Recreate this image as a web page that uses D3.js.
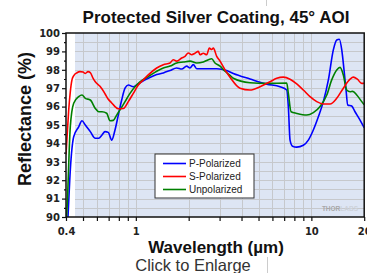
<!DOCTYPE html>
<html>
<head>
<meta charset="utf-8">
<script src="https://cdn.jsdelivr.net/npm/d3@7"></script>
<style>
  body { margin: 0; background: #fff; }
  svg { display: block; }
  .tick text { font-family: "DejaVu Sans", sans-serif; font-weight: bold; font-size: 10px; fill: #222; }
</style>
</head>
<body>
<svg id="chart" width="367" height="273"></svg>
<script>
// Wavelength (µm) and reflectance (%), one pair of arrays per curve.
const pWave = [0.400, 0.4106, 0.4232, 0.4425, 0.4725, 0.4934, 0.5153, 0.5501, 0.5876, 0.6144, 0.6416, 0.6672, 0.6967, 0.7286, 0.7608, 0.7944, 0.8306, 0.8676, 0.9058, 0.9671, 1.011, 1.080, 1.177, 1.315, 1.434, 1.565, 1.709, 1.825, 1.948, 2.035, 2.125, 2.222, 2.889, 3.294, 3.592, 4.471, 5.568, 6.630, 7.238, 7.393, 7.560, 7.811, 8.254, 8.999, 9.610, 10.26, 10.96, 11.70, 12.50, 13.34, 13.95, 14.43, 14.90, 15.35, 15.76, 16.11, 16.98, 17.73, 18.94, 20.0];
const pRefl = [88.0, 90.0, 92.55, 94.36, 94.9, 95.23, 95.0, 94.64, 94.28, 94.28, 94.46, 94.64, 94.6, 94.18, 94.73, 95.54, 96.36, 97.0, 97.17, 97.08, 97.17, 97.35, 97.54, 97.74, 97.83, 97.96, 98.1, 98.04, 98.2, 98.1, 98.28, 98.06, 98.06, 97.96, 97.8, 97.5, 97.22, 97.08, 96.9, 96.0, 94.18, 93.85, 93.8, 93.9, 94.18, 94.73, 95.45, 96.27, 97.45, 99.08, 99.62, 99.66, 99.08, 97.99, 96.9, 96.09, 96.03, 95.72, 95.27, 94.85];

const sWave = [0.400, 0.4053, 0.4144, 0.4232, 0.4326, 0.4442, 0.4620, 0.4806, 0.4999, 0.5153, 0.5338, 0.5501, 0.5700, 0.5876, 0.6248, 0.6672, 0.6967, 0.7286, 0.7608, 0.7944, 0.8482, 0.9058, 0.9671, 1.033, 1.103, 1.177, 1.315, 1.434, 1.565, 1.635, 1.709, 1.825, 1.906, 1.990, 2.081, 2.173, 2.269, 2.320, 2.423, 2.534, 2.622, 2.706, 2.763, 2.889, 3.017, 3.222, 3.440, 3.922, 4.471, 5.099, 5.815, 6.348, 6.923, 7.560, 8.254, 8.999, 9.827, 10.73, 11.70, 12.78, 13.95, 15.21, 16.61, 17.34, 18.28, 19.37, 20.0];
const sRefl = [93.4, 94.3, 95.8, 96.8, 97.45, 97.7, 97.84, 97.9, 97.88, 97.8, 97.9, 97.85, 97.55, 97.35, 97.1, 96.7, 96.4, 96.2, 96.0, 95.88, 95.9, 96.27, 96.72, 97.17, 97.45, 97.72, 98.1, 98.28, 98.37, 98.55, 98.47, 98.64, 98.73, 98.91, 98.82, 98.9, 99.0, 98.82, 98.9, 98.82, 99.18, 99.1, 99.18, 98.73, 98.47, 98.0, 97.6, 97.0, 96.9, 97.08, 97.35, 97.54, 97.6, 97.49, 97.23, 96.9, 96.54, 96.27, 96.14, 96.14, 96.45, 97.0, 97.49, 97.6, 97.49, 97.26, 97.27];

const uWave = [0.400, 0.4053, 0.4232, 0.4425, 0.4725, 0.4934, 0.5153, 0.5501, 0.5876, 0.6144, 0.6416, 0.6824, 0.7124, 0.744, 0.7778, 0.8123, 0.8676, 0.9262, 0.9889, 1.056, 1.177, 1.315, 1.434, 1.565, 1.709, 1.864, 2.035, 2.222, 2.423, 2.587, 2.706, 2.825, 3.017, 3.222, 3.440, 3.592, 4.471, 5.568, 7.238, 7.393, 7.660, 8.254, 9.410, 10.26, 11.21, 12.24, 13.06, 13.95, 14.57, 15.21, 15.90, 16.61, 17.21, 18.14, 19.37, 20.0];
const uRefl = [89.5, 90.4, 94.9, 96.18, 96.54, 96.63, 96.45, 96.36, 95.9, 95.72, 95.72, 95.64, 95.23, 95.25, 95.54, 95.82, 96.27, 96.72, 97.08, 97.35, 97.63, 97.92, 98.1, 98.2, 98.37, 98.42, 98.47, 98.37, 98.42, 98.55, 98.6, 98.37, 98.2, 97.92, 97.7, 97.54, 97.3, 97.26, 97.28, 96.72, 95.72, 95.63, 95.54, 95.67, 96.0, 96.63, 97.45, 97.99, 98.13, 97.72, 96.9, 96.81, 96.83, 96.63, 96.27, 96.1];

const seriesNames = ['P-Polarized', 'S-Polarized', 'Unpolarized'];
const seriesColors = ['#0000ff', '#ff0000', '#008000'];

// Axis ticks and grid.
const xLabelTicks = [0.4, 1, 10, 20];
const xMinorTicks = [0.5, 0.6, 0.7, 0.8, 0.9, 2, 3, 4, 5, 6, 7, 8, 9];
const xGrid = [0.5, 0.6, 0.7, 0.8, 0.9, 1, 2, 3, 4, 5, 6, 7, 8, 9, 10];
const yTicks = [90, 91, 92, 93, 94, 95, 96, 97, 98, 99, 100];
const yHalfTicks = [90.5, 91.5, 92.5, 93.5, 94.5, 95.5, 96.5, 97.5, 98.5, 99.5];

const svg = d3.select('#chart');

const x = d3.scaleLog().domain([0.4, 20]).range([66, 364.2]);
const y = d3.scaleLinear().domain([90, 100]).range([217, 33]);

// Plot background starts a little right of the axis, as in the reference.
svg.append('rect')
  .attr('x', x(0.45))
  .attr('y', y(100))
  .attr('width', x(20) - x(0.45))
  .attr('height', y(90) - y(100))
  .attr('fill', '#dde5f4');

// Grid lines.
const grid = svg.append('g').attr('stroke', '#c6c8cc').attr('stroke-width', 1);
grid.selectAll('.vg').data(xGrid).join('line')
  .attr('x1', (d) => Math.round(x(d)) + 0.5)
  .attr('x2', (d) => Math.round(x(d)) + 0.5)
  .attr('y1', y(100))
  .attr('y2', y(90));
grid.selectAll('.hg').data(yTicks.concat(yHalfTicks).filter((d) => d > 90 && d < 100)).join('line')
  .attr('x1', x(0.45))
  .attr('x2', x(20))
  .attr('y1', (d) => Math.round(y(d)) + 0.5)
  .attr('y2', (d) => Math.round(y(d)) + 0.5);

// Curves.
svg.append('clipPath').attr('id', 'plot-clip')
  .append('rect')
  .attr('x', x(0.4))
  .attr('y', y(100))
  .attr('width', x(20) - x(0.4))
  .attr('height', y(90) - y(100));

const line = d3.line()
  .x((d) => x(d[0]))
  .y((d) => y(d[1]))
  .curve(d3.curveMonotoneX);

const curves = [
  { wave: pWave, refl: pRefl, color: seriesColors[0] },
  { wave: uWave, refl: uRefl, color: seriesColors[2] },
  { wave: sWave, refl: sRefl, color: seriesColors[1] },
];

const curveGroup = svg.append('g').attr('clip-path', 'url(#plot-clip)');
curves.forEach((c) => {
  curveGroup.append('path')
    .datum(d3.zip(c.wave, c.refl))
    .attr('d', line)
    .attr('fill', 'none')
    .attr('stroke', c.color)
    .attr('stroke-width', 1.6)
    .attr('stroke-linejoin', 'round');
});

// Frame.
svg.append('rect')
  .attr('x', x(0.4))
  .attr('y', y(100))
  .attr('width', x(20) - x(0.4))
  .attr('height', y(90) - y(100))
  .attr('fill', 'none')
  .attr('stroke', '#111')
  .attr('stroke-width', 1.5);

// Y axis.
svg.append('g')
  .attr('transform', `translate(${x(0.4)},0)`)
  .call(d3.axisLeft(y).tickValues(yTicks).tickSize(4).tickPadding(2).tickFormat(d3.format('d')));
svg.append('g')
  .attr('transform', `translate(${x(0.4)},0)`)
  .call(d3.axisLeft(y).tickValues(yHalfTicks).tickSize(2).tickFormat(''));

// X axis.
svg.append('g')
  .attr('transform', `translate(0,${y(90)})`)
  .call(d3.axisBottom(x).tickValues(xLabelTicks).tickSize(4).tickPadding(7).tickFormat((d) => String(d)));
svg.append('g')
  .attr('transform', `translate(0,${y(90)})`)
  .call(d3.axisBottom(x).tickValues(xMinorTicks).tickSize(4).tickFormat(''));

svg.selectAll('.domain').remove();
svg.selectAll('.tick line').attr('stroke', '#111').attr('stroke-width', 1.2);

// Titles.
svg.append('text')
  .attr('x', 216)
  .attr('y', 23)
  .attr('text-anchor', 'middle')
  .style('font-family', 'Liberation Sans, Arial, sans-serif')
  .style('font-weight', 'bold')
  .style('font-size', '17px')
  .attr('fill', '#111')
  .text('Protected Silver Coating, 45° AOI');

svg.append('text')
  .attr('transform', 'translate(31,119) rotate(-90)')
  .attr('text-anchor', 'middle')
  .style('font-family', 'Liberation Sans, Arial, sans-serif')
  .style('font-weight', 'bold')
  .style('font-size', '18px')
  .attr('fill', '#111')
  .text('Reflectance (%)');

svg.append('text')
  .attr('x', 216)
  .attr('y', 253)
  .attr('text-anchor', 'middle')
  .style('font-family', 'Liberation Sans, Arial, sans-serif')
  .style('font-weight', 'bold')
  .style('font-size', '17px')
  .attr('fill', '#111')
  .text('Wavelength (µm)');

// Legend.
const legend = svg.append('g').attr('transform', 'translate(155,154)');
legend.append('rect')
  .attr('width', 99)
  .attr('height', 44)
  .attr('fill', '#fff')
  .attr('stroke', '#333')
  .attr('stroke-width', 1);
seriesNames.forEach((name, i) => {
  const yy = 9.5 + i * 13;
  legend.append('line')
    .attr('x1', 8).attr('x2', 31)
    .attr('y1', yy).attr('y2', yy)
    .attr('stroke', seriesColors[i])
    .attr('stroke-width', 1.6);
  legend.append('text')
    .attr('x', 34)
    .attr('y', yy + 3.5)
    .style('font-family', 'Liberation Sans, Arial, sans-serif')
    .style('font-size', '10px')
    .attr('fill', '#222')
    .text(name);
});

// Watermark, kept inside the frame.
const mark = svg.append('text')
  .attr('x', 358)
  .attr('y', 211)
  .attr('text-anchor', 'end')
  .style('font-family', 'Liberation Sans, Arial, sans-serif')
  .style('font-weight', 'bold')
  .style('font-size', '6.5px');
mark.append('tspan').attr('fill', '#a8a8a8').text('THOR');
mark.append('tspan').attr('fill', '#cdd2da').text('LABS');

// Page caption under the picture.
svg.append('text')
  .attr('x', 193)
  .attr('y', 271)
  .attr('text-anchor', 'middle')
  .style('font-family', 'Liberation Sans, Arial, sans-serif')
  .style('font-size', '16.5px')
  .attr('fill', '#333')
  .text('Click to Enlarge');

svg.append('line')
  .attr('x1', 266.5).attr('x2', 266.5).attr('y1', 0).attr('y2', 6)
  .attr('stroke', '#ccc');
svg.append('line')
  .attr('x1', 267.5).attr('x2', 267.5).attr('y1', 257).attr('y2', 273)
  .attr('stroke', '#ccc');
</script>
</body>
</html>
